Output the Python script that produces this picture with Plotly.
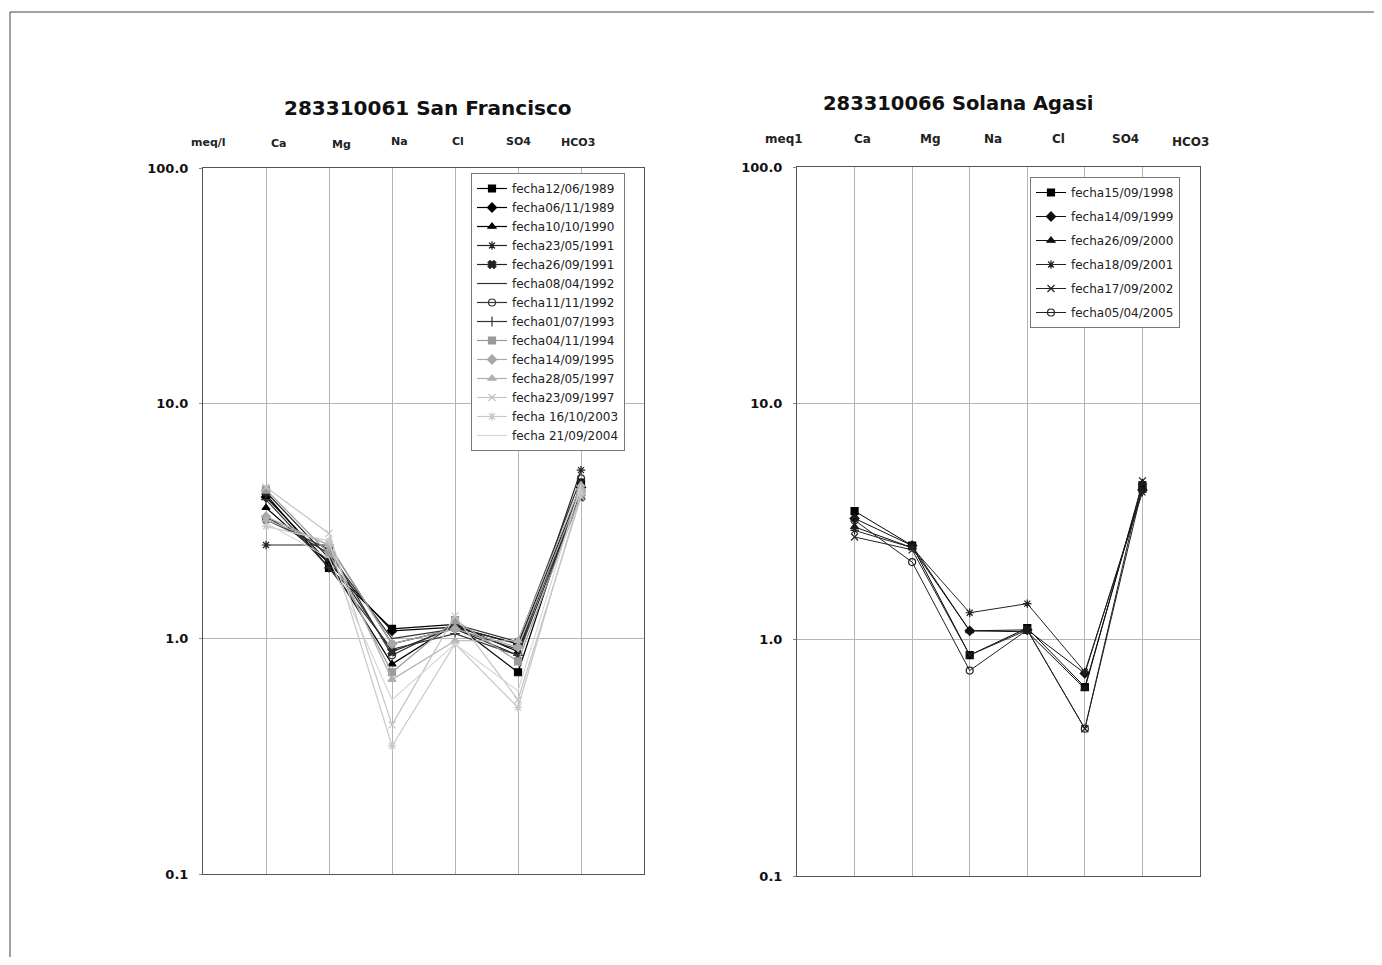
import plotly.graph_objects as go

# figure fits inside the 1382x965 window once the 8px page margin is counted
W, H = 1366, 949
OFF = 8

# ---------------- data ----------------
ions = ["Ca", "Mg", "Na", "Cl", "SO4", "HCO3"]
ion_pos = [1, 2, 3, 4, 5, 6]

left_title = "283310061 San Francisco"
right_title = "283310066 Solana Agasi"
left_unit = "meq/l"
right_unit = "meq1"

y_tickvals = [0.1, 1, 10, 100]
y_ticktext = ["0.1", "1.0", "10.0", "100.0"]

left_names = [
    "fecha12/06/1989", "fecha06/11/1989", "fecha10/10/1990", "fecha23/05/1991",
    "fecha26/09/1991", "fecha08/04/1992", "fecha11/11/1992", "fecha01/07/1993",
    "fecha04/11/1994", "fecha14/09/1995", "fecha28/05/1997", "fecha23/09/1997",
    "fecha 16/10/2003", "fecha 21/09/2004",
]
s_1989a = [4.1, 2.0, 1.10, 1.15, 0.72, 4.6]
s_1989b = [4.0, 2.1, 1.08, 1.12, 0.95, 4.4]
s_1990 = [3.6, 2.1, 0.78, 1.15, 0.88, 4.5]
s_1991a = [2.5, 2.5, 0.95, 1.10, 0.85, 5.2]
s_1991b = [4.2, 2.2, 0.88, 1.12, 0.95, 4.0]
s_1992a = [3.3, 2.3, 1.00, 1.10, 0.90, 4.3]
s_1992b = [3.2, 2.4, 0.85, 1.15, 0.97, 4.8]
s_1993 = [3.9, 2.0, 0.90, 1.05, 0.85, 4.2]
s_1994 = [4.3, 2.3, 0.72, 1.20, 0.80, 4.1]
s_1995 = [3.3, 2.5, 0.95, 1.10, 0.92, 4.3]
s_1997a = [3.2, 2.5, 0.67, 0.98, 0.98, 4.5]
s_1997b = [4.4, 2.8, 0.43, 1.25, 0.55, 4.0]
s_2003 = [3.0, 2.6, 0.35, 0.95, 0.51, 4.2]
s_2004 = [3.1, 2.2, 0.55, 0.95, 0.60, 4.5]
left_values = [s_1989a, s_1989b, s_1990, s_1991a, s_1991b, s_1992a, s_1992b,
               s_1993, s_1994, s_1995, s_1997a, s_1997b, s_2003, s_2004]

right_names = [
    "fecha15/09/1998", "fecha14/09/1999", "fecha26/09/2000",
    "fecha18/09/2001", "fecha17/09/2002", "fecha05/04/2005",
]
r_1998 = [3.5, 2.50, 0.86, 1.12, 0.63, 4.5]
r_1999 = [3.26, 2.50, 1.09, 1.10, 0.72, 4.3]
r_2000 = [3.0, 2.45, 1.09, 1.08, 0.62, 4.6]
r_2001 = [2.9, 2.45, 1.30, 1.42, 0.73, 4.2]
r_2002 = [2.72, 2.40, 0.86, 1.10, 0.42, 4.7]
r_2005 = [3.2, 2.13, 0.74, 1.10, 0.42, 4.4]
right_values = [r_1998, r_1999, r_2000, r_2001, r_2002, r_2005]

# ---------------- styles ----------------
left_styles = [
    ("#000000", "square"), ("#000000", "diamond"), ("#000000", "triangle-up"),
    ("#222222", "asterisk-open"), ("#222222", "x"), ("#333333", None),
    ("#333333", "circle-open"), ("#333333", "cross-thin-open"),
    ("#9a9a9a", "square"), ("#a8a8a8", "diamond"), ("#b0b0b0", "triangle-up"),
    ("#c4c4c4", "x-thin-open"), ("#c8c8c8", "asterisk-open"), ("#d6d6d6", None),
]
right_styles = [
    ("#000000", "square"), ("#111111", "diamond"), ("#111111", "triangle-up"),
    ("#222222", "asterisk-open"), ("#222222", "x-thin-open"), ("#222222", "circle-open"),
]


def px_x(p):
    return (p - OFF) / W


def px_y(p):
    return 1 - (p - OFF) / H


fig = go.Figure()

for name, vals, (col, sym) in zip(left_names, left_values, left_styles):
    mode = "lines+markers" if sym else "lines"
    fig.add_trace(go.Scatter(
        x=ion_pos, y=vals, name=name, mode=mode, xaxis="x", yaxis="y",
        line=dict(color=col, width=1.2),
        marker=dict(symbol=sym or "circle", size=7, color=col,
                    line=dict(color=col, width=1.2)),
        legend="legend",
    ))

for i, (name, vals, (col, sym)) in enumerate(zip(right_names, right_values, right_styles)):
    fig.add_trace(go.Scatter(
        x=ion_pos, y=vals, name=name, mode="lines+markers", xaxis="x2", yaxis="y2",
        line=dict(color=col, width=1),
        marker=dict(symbol=sym, size=7, color=col, line=dict(color=col, width=1.2)),
        legend="legend2", legendgroup=f"g{i}",
    ))

axis_common_x = dict(
    range=[0, 7], tickvals=ion_pos, showticklabels=False, showgrid=True,
    gridcolor="#b4b4b4", gridwidth=1, zeroline=False, showline=True,
    linecolor="#555555", linewidth=1, mirror=True, ticks="",
)
axis_common_y = dict(
    type="log", range=[-1, 2], tickvals=y_tickvals, ticktext=y_ticktext,
    showgrid=True, gridcolor="#b4b4b4", gridwidth=1, zeroline=False,
    showline=True, linecolor="#555555", linewidth=1, mirror=True,
    ticks="outside", ticklen=3, tickcolor="#888888",
    tickfont=dict(family="DejaVu Sans", size=13, color="#111111", weight="bold"),
    ticklabelstandoff=8, automargin=False,
)

legend_font = dict(family="DejaVu Sans", size=12, color="#222222")

fig.update_layout(
    width=W, height=H,
    margin=dict(l=0, r=0, t=0, b=0),
    paper_bgcolor="white", plot_bgcolor="white",
    font=dict(family="DejaVu Sans", color="#111111"),
    xaxis=dict(domain=[px_x(203), px_x(644)], anchor="y", **axis_common_x),
    yaxis=dict(domain=[px_y(874), px_y(168)], anchor="x", **axis_common_y),
    xaxis2=dict(domain=[px_x(797), px_x(1200)], anchor="y2", **axis_common_x),
    yaxis2=dict(domain=[px_y(876), px_y(167)], anchor="x2", **axis_common_y),
    legend=dict(
        x=px_x(471), y=px_y(173), xanchor="left", yanchor="top",
        bgcolor="white", bordercolor="#777777", borderwidth=1,
        font=legend_font, itemwidth=30, tracegroupgap=0,
    ),
    legend2=dict(
        x=px_x(1030), y=px_y(177), xanchor="left", yanchor="top",
        bgcolor="white", bordercolor="#777777", borderwidth=1,
        font=legend_font, itemwidth=30, tracegroupgap=5,
    ),
    showlegend=True,
)

# titles
fig.add_annotation(text=f"<b>{left_title}</b>", x=px_x(428), y=px_y(108),
                   xref="paper", yref="paper", showarrow=False,
                   xanchor="center", yanchor="middle",
                   font=dict(family="DejaVu Sans", size=20, color="#111111"))
fig.add_annotation(text=f"<b>{right_title}</b>", x=px_x(958), y=px_y(104),
                   xref="paper", yref="paper", showarrow=False,
                   xanchor="center", yanchor="middle",
                   font=dict(family="DejaVu Sans", size=19.5, color="#111111"))

# top column labels (pixel centres)
left_label_px = [208, 279, 341, 399, 458, 518, 578]
left_label_py = [142, 143, 144, 141, 141, 141, 142]
right_label_px = [784, 862, 930, 993, 1058, 1125, 1190]
right_label_py = [139, 139, 139, 139, 139, 139, 142]
for lx, ly, t in zip(left_label_px, left_label_py, [left_unit] + ions):
    fig.add_annotation(text=f"<b>{t}</b>", x=px_x(lx), y=px_y(ly),
                       xref="paper", yref="paper", showarrow=False,
                       xanchor="center", yanchor="middle",
                       font=dict(family="DejaVu Sans", size=11, color="#222222"))
for lx, ly, t in zip(right_label_px, right_label_py, [right_unit] + ions):
    fig.add_annotation(text=f"<b>{t}</b>", x=px_x(lx), y=px_y(ly),
                       xref="paper", yref="paper", showarrow=False,
                       xanchor="center", yanchor="middle",
                       font=dict(family="DejaVu Sans", size=12, color="#222222"))

# outer frame of the page
fig.add_shape(type="line", xref="paper", yref="paper",
              x0=px_x(10), x1=1, y0=px_y(12), y1=px_y(12),
              line=dict(color="#444444", width=1))
fig.add_shape(type="line", xref="paper", yref="paper",
              x0=px_x(10), x1=px_x(10), y0=px_y(12), y1=0,
              line=dict(color="#444444", width=1))

fig.write_html("out.html")
